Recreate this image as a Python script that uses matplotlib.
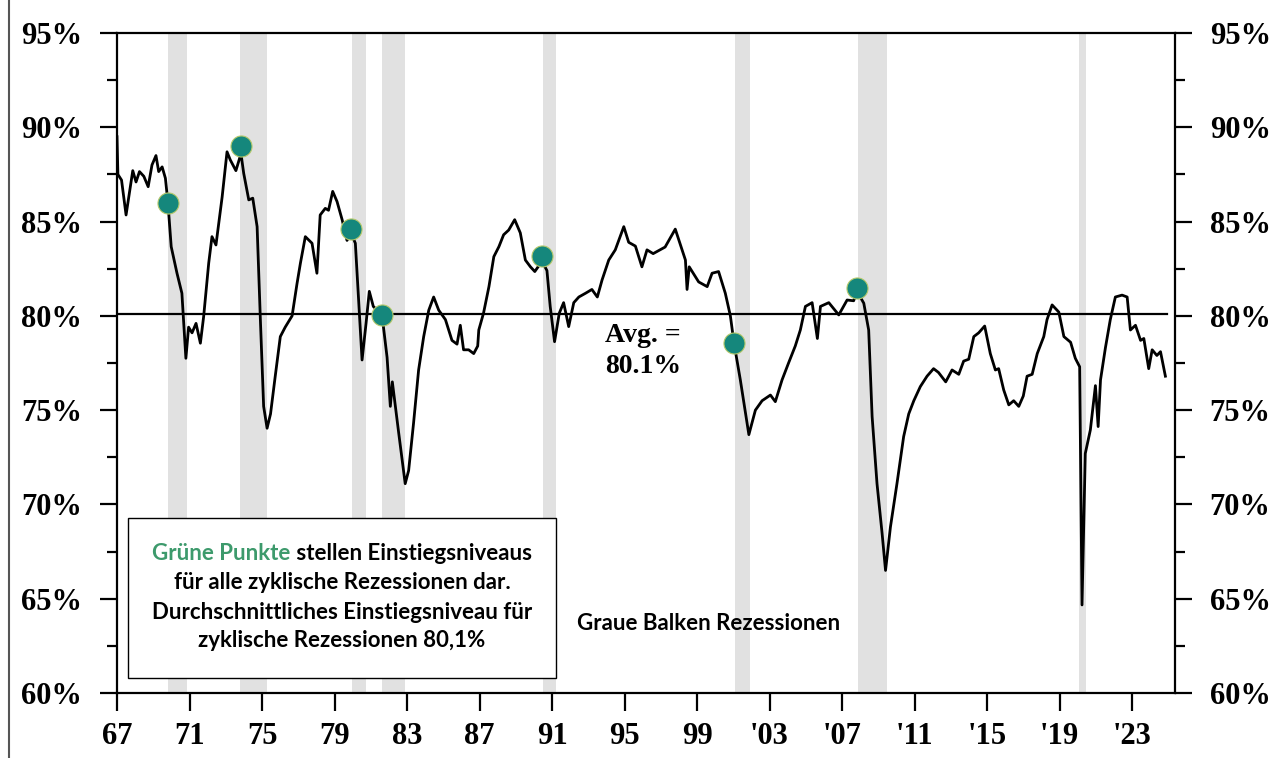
import matplotlib
matplotlib.use("Agg")
import matplotlib.pyplot as plt
from matplotlib.lines import Line2D
from matplotlib.patches import Rectangle

# Capacity utilization (%)
years = [
    1967.0, 1967.05, 1967.25, 1967.5, 1967.65, 1967.87, 1968.05, 1968.24, 1968.48, 1968.72,
    1968.93, 1969.15, 1969.3, 1969.49, 1969.67, 1969.81, 1969.99, 1970.31, 1970.58, 1970.8,
    1970.95, 1971.14, 1971.36, 1971.6, 1971.78, 1972.06, 1972.24, 1972.46, 1972.8, 1973.07,
    1973.25, 1973.56, 1973.84, 1973.99, 1974.27, 1974.49, 1974.73, 1974.91, 1975.09, 1975.28,
    1975.47, 1975.73, 1976.01, 1976.28, 1976.66, 1976.93, 1977.12, 1977.39, 1977.76, 1978.03,
    1978.21, 1978.49, 1978.67, 1978.9, 1979.14, 1979.42, 1979.69, 1979.91, 1980.15, 1980.33,
    1980.52, 1980.74, 1980.92, 1981.14, 1981.62, 1981.9, 1982.08, 1982.19, 1982.54, 1982.9,
    1983.09, 1983.36, 1983.64, 1983.92, 1984.2, 1984.47, 1984.75, 1985.12, 1985.48, 1985.76,
    1985.94, 1986.12, 1986.4, 1986.68, 1986.9, 1986.96, 1987.22, 1987.52, 1987.79, 1988.07,
    1988.33, 1988.61, 1988.94, 1989.25, 1989.53, 1989.81, 1990.05, 1990.45, 1990.72, 1990.9,
    1991.14, 1991.4, 1991.64, 1991.92, 1992.2, 1992.48, 1992.85, 1993.2, 1993.5, 1993.76,
    1994.13, 1994.49, 1994.96, 1995.23, 1995.6, 1995.96, 1996.24, 1996.58, 1997.24, 1997.8,
    1998.36, 1998.45, 1998.57, 1999.09, 1999.56, 1999.83, 2000.19, 2000.56, 2000.84, 2001.04,
    2001.39, 2001.86, 2002.22, 2002.59, 2003.05, 2003.32, 2003.69, 2004.05, 2004.42, 2004.7,
    2004.98, 2005.35, 2005.64, 2005.81, 2006.27, 2006.82, 2007.28, 2007.64, 2007.83, 2008.2,
    2008.47, 2008.66, 2008.93, 2009.21, 2009.4, 2009.67, 2010.03, 2010.4, 2010.68, 2010.96,
    2011.32, 2011.69, 2012.05, 2012.32, 2012.72, 2013.07, 2013.44, 2013.71, 2013.99, 2014.27,
    2014.54, 2014.87, 2015.18, 2015.46, 2015.64, 2015.92, 2016.2, 2016.47, 2016.75, 2017.0,
    2017.21, 2017.49, 2017.77, 2018.13, 2018.31, 2018.59, 2018.96, 2019.24, 2019.61, 2019.87,
    2020.11, 2020.24, 2020.42, 2020.7, 2020.98, 2021.13, 2021.26, 2021.53, 2021.8, 2022.08,
    2022.45, 2022.73, 2022.91, 2023.19, 2023.47, 2023.65, 2023.92, 2024.11, 2024.37, 2024.57,
    2024.84,
]
utilization = [
    89.5, 87.5, 87.2, 85.35, 86.3, 87.7, 87.1, 87.65, 87.4, 86.85,
    88.0, 88.5, 87.65, 87.9, 87.3, 86.0, 83.67, 82.26, 81.2, 77.75,
    79.4, 79.1, 79.6, 78.55, 79.96, 82.8, 84.2, 83.76, 86.3, 88.7,
    88.27, 87.7, 88.6, 87.56, 86.15, 86.24, 84.73, 79.8, 75.2, 74.04,
    74.8, 76.8, 78.9, 79.4, 80.0, 81.7, 82.8, 84.2, 83.85, 82.26,
    85.35, 85.7, 85.6, 86.6, 86.06, 85.1, 84.0, 84.4, 83.85, 80.85,
    77.66, 79.6, 81.3, 80.5, 80.05, 77.8, 75.2, 76.5, 73.8, 71.1,
    71.8, 74.3, 77.13, 78.9, 80.3, 81.0, 80.3, 79.8, 78.7, 78.5,
    79.5, 78.2, 78.2, 78.0, 78.4, 79.25, 80.14, 81.55, 83.14, 83.67,
    84.3, 84.55, 85.1, 84.4, 82.96, 82.6, 82.35, 82.9, 82.4, 80.5,
    78.63, 80.14, 80.7, 79.43, 80.7, 81.0, 81.2, 81.4, 81.0, 81.9,
    82.96, 83.5, 84.73, 83.9, 83.7, 82.6, 83.5, 83.3, 83.65, 84.6,
    82.96, 81.4, 82.6, 81.8, 81.55, 82.26, 82.35, 81.2, 80.0, 78.56,
    76.6, 73.7, 75.0, 75.5, 75.8, 75.45, 76.6, 77.5, 78.4, 79.25,
    80.5, 80.7, 78.8, 80.5, 80.7, 80.05, 80.84, 80.8, 81.3, 80.67,
    79.25, 74.66, 71.1, 68.47, 66.5, 68.8, 71.1, 73.6, 74.8, 75.5,
    76.25, 76.8, 77.2, 77.0, 76.5, 77.13, 76.9, 77.6, 77.7, 78.9,
    79.1, 79.46, 78.0, 77.13, 77.2, 76.07, 75.28, 75.5, 75.2, 75.75,
    76.8, 76.9, 78.0, 78.9, 79.8, 80.58, 80.2, 78.9, 78.6, 77.75,
    77.3, 64.67, 72.7, 73.95, 76.3, 74.13, 76.6, 78.3, 79.8, 81.0,
    81.1, 81.0, 79.25, 79.5, 78.7, 78.8, 77.2, 78.2, 77.9, 78.1,
    76.8,
]

# recessions (grey bars)
rec_start = [1969.81, 1973.77, 1979.94, 1981.60, 1990.48, 2001.09, 2007.86, 2020.09]
rec_end = [1970.86, 1975.29, 1980.72, 1982.89, 1991.22, 2001.92, 2009.46, 2020.44]

# green dots: entry levels
dot_years = [1969.81, 1973.84, 1979.91, 1981.62, 1990.45, 2001.04, 2007.83]
dot_values = [86.0, 89.0, 84.6, 80.05, 83.2, 78.56, 81.5]

AVG = 80.1
tick_years = list(range(1967, 2024, 4))
tick_labels = ["67", "71", "75", "79", "83", "87", "91", "95", "99",
               "'03", "'07", "'11", "'15", "'19", "'23"]
y_ticks = [60, 65, 70, 75, 80, 85, 90, 95]
y_minor = [62.5, 67.5, 72.5, 77.5, 82.5, 87.5, 92.5]

SERIF = ["Liberation Serif", "DejaVu Serif"]
SANS = ["Lato", "DejaVu Sans"]
FS_BOX = 16

fig = plt.figure(figsize=(12.77, 7.58), dpi=100)
ax = fig.add_axes([117 / 1277, 1 - 693 / 758, 1058 / 1277, 660 / 758])

for s, e in zip(rec_start, rec_end):
    ax.axvspan(s, e, color="#e1e1e1", lw=0, zorder=0)

ax.axhline(AVG, xmin=0, xmax=0.992, color="black", lw=1.6, zorder=2)
ax.plot(years, utilization, color="black", lw=2.0, zorder=3)
ax.scatter(dot_years, dot_values, s=230, color="#15877c", edgecolor="#b5c96a",
           linewidth=0.8, zorder=4)

ax.set_xlim(1967, 2025.37)
ax.set_ylim(60, 95)
ax.set_xticks(tick_years)
ax.set_xticklabels(tick_labels)
ax.set_yticks(y_ticks)
ax.set_yticks(y_minor, minor=True)
ax.set_yticklabels([f"{v}%" for v in y_ticks])

for sp in ax.spines.values():
    sp.set_linewidth(1.6)
ax.tick_params(axis="y", which="major", direction="out", length=12, width=1.6,
               right=True, labelright=True, pad=13)
ax.tick_params(axis="y", which="minor", direction="out", length=7, width=1.6, right=True)
ax.tick_params(axis="x", which="major", direction="out", length=13, width=1.6, pad=8)
for t in ax.xaxis.get_major_ticks() + ax.yaxis.get_major_ticks():
    for lab in (t.label1, t.label2):
        lab.set_fontfamily(SERIF)
        lab.set_fontweight("bold")
        lab.set_fontsize(22)

ax.text(0.497, 0.542, "Avg. =", transform=ax.transAxes, ha="center", va="center",
        family=SERIF, weight="bold", fontsize=20, zorder=5)
ax.text(0.497, 0.494, "80.1%", transform=ax.transAxes, ha="center", va="center",
        family=SERIF, weight="bold", fontsize=20, zorder=5)

# note box
ax.add_patch(Rectangle((0.0104, 0.0227), 0.4045, 0.2423, transform=ax.transAxes,
                       facecolor="white", edgecolor="black", lw=1.0, zorder=6))
box_cx = 0.2127
line_y = [0.2121, 0.1667, 0.1227, 0.0788]
box_lines = ["für alle zyklische Rezessionen dar.",
             "Durchschnittliches Einstiegsniveau für",
             "zyklische Rezessionen 80,1%"]
for y, txt in zip(line_y[1:], box_lines):
    ax.text(box_cx, y, txt, transform=ax.transAxes, ha="center", va="center",
            family=SANS, weight="bold", fontsize=FS_BOX, zorder=7)

# first line: green part + black part, centred together
green_txt, black_txt = "Grüne Punkte", " stellen Einstiegsniveaus"
fig.canvas.draw()
r = fig.canvas.get_renderer()
probe = ax.text(box_cx, line_y[0], green_txt + black_txt, transform=ax.transAxes,
                ha="center", va="center", family=SANS, weight="bold", fontsize=FS_BOX)
bb = probe.get_window_extent(r).transformed(ax.transAxes.inverted())
probe.remove()
g = ax.text(bb.x0, line_y[0], green_txt, transform=ax.transAxes, ha="left", va="center",
            family=SANS, weight="bold", fontsize=FS_BOX, color="#3d9a6c", zorder=7)
gb = g.get_window_extent(r).transformed(ax.transAxes.inverted())
ax.text(gb.x1, line_y[0], black_txt, transform=ax.transAxes, ha="left", va="center",
        family=SANS, weight="bold", fontsize=FS_BOX, zorder=7)

ax.text(0.559, 0.106, "Graue Balken Rezessionen", transform=ax.transAxes,
        ha="center", va="center", family=SANS, weight="bold", fontsize=FS_BOX, zorder=7)

# thin frame line on the left edge of the picture
fig.add_artist(Line2D([9 / 1277, 9 / 1277], [0, 1], color="#555555", lw=1.5))

fig.savefig("out.png", dpi=100)
